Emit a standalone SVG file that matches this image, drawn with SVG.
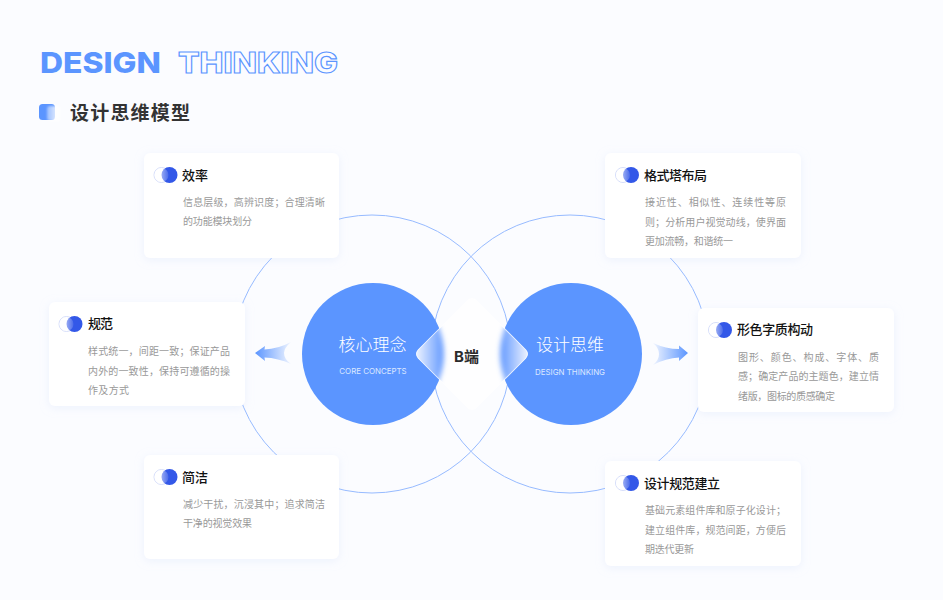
<svg xmlns="http://www.w3.org/2000/svg" xmlns:xlink="http://www.w3.org/1999/xlink" width="943" height="600" viewBox="0 0 943 600">
<style>
text{font-family:"Noto Sans CJK SC","Noto Sans",sans-serif}
.card{fill:#fff;filter:url(#sh)}
.t{font-size:13px;font-weight:500;fill:#111}
.b{font-size:10px;fill:#999}
.ring{fill:none;stroke:#97bbff;stroke-width:1}
.core{fill:#5b95ff}
.big{font-size:17px;font-weight:300;fill:#fff;text-anchor:middle}
.sm{font-family:Inter,"Noto Sans",sans-serif;font-size:7.9px;fill:#dce8ff;text-anchor:middle}
</style>
<defs>
<filter id="sh" x="-20%" y="-20%" width="140%" height="150%"><feDropShadow dx="0" dy="2" stdDeviation="5" flood-color="#c9d6f5" flood-opacity=".28"/></filter>
<filter id="bl" x="-20%" y="-20%" width="140%" height="140%"><feGaussianBlur stdDeviation="2.8"/></filter>
<filter id="bl2" x="-30%" y="-30%" width="160%" height="160%"><feGaussianBlur stdDeviation="1"/></filter>
<linearGradient id="ov"><stop offset="0" stop-color="#fff" stop-opacity="1"/><stop offset=".5" stop-color="#fff" stop-opacity=".5"/><stop offset="1" stop-color="#fff" stop-opacity=".12"/></linearGradient>
<linearGradient id="la" gradientUnits="userSpaceOnUse" x1="255" y1="0" x2="292" y2="0"><stop offset="0" stop-color="#5b95ff"/><stop offset="1" stop-color="#5b95ff" stop-opacity=".05"/></linearGradient>
<linearGradient id="ra" gradientUnits="userSpaceOnUse" x1="688" y1="0" x2="652" y2="0"><stop offset="0" stop-color="#5b95ff"/><stop offset="1" stop-color="#5b95ff" stop-opacity=".05"/></linearGradient>
<linearGradient id="gl" gradientUnits="userSpaceOnUse" x1="415" y1="0" x2="445" y2="0"><stop offset="0" stop-color="#f2f6ff"/><stop offset=".9" stop-color="#6a9eff"/><stop offset="1" stop-color="#6a9eff"/></linearGradient>
<linearGradient id="gr" gradientUnits="userSpaceOnUse" x1="529" y1="0" x2="499" y2="0"><stop offset="0" stop-color="#f2f6ff"/><stop offset=".9" stop-color="#6a9eff"/><stop offset="1" stop-color="#6a9eff"/></linearGradient>
<linearGradient id="fr"><stop offset="0" stop-color="#fff" stop-opacity=".4"/><stop offset="1" stop-color="#fff" stop-opacity=".95"/></linearGradient>
<clipPath id="dm"><rect x="431" y="313" width="82" height="82" rx="6" transform="rotate(45 472 354)"/></clipPath>
<g id="ic"><circle cx="8" cy="8" r="7.5" fill="#fff" stroke="#d5ddfa" stroke-width="1"/><circle cx="16" cy="8" r="8" fill="#3358e8"/><circle cx="8" cy="8" r="7" fill="url(#ov)"/></g>
</defs>
<rect width="943" height="600" fill="#fbfcff"/>
<g id="title">
<text x="40" y="73" font-size="29" font-weight="800" fill="#5b95ff" style="font-family:Inter,sans-serif" textLength="121" lengthAdjust="spacingAndGlyphs">DESIGN</text>
<text x="178" y="73" font-size="29" font-weight="800" fill="none" stroke="#5b95ff" stroke-width="1.1" style="font-family:Inter,sans-serif" textLength="160" lengthAdjust="spacingAndGlyphs">THINKING</text>
</g>
<g id="subtitle">
<rect x="39" y="104" width="16" height="16" rx="3.5" fill="#5b95ff"/>
<rect x="47" y="106" width="13" height="15" rx="3" fill="url(#fr)" filter="url(#bl2)"/>
<text x="70" y="120" font-size="19" font-weight="700" fill="#333" textLength="120">设计思维模型</text>
</g>
<g id="connectors">
<circle class="ring" cx="372" cy="354" r="139"/>
<circle class="ring" cx="570" cy="354" r="139"/>
<path fill="url(#la)" d="M255 353 L265 346 L264.5 349.500 Q278 349 291 342 Q284 348 284 353 Q284 359 291 364 Q278 358 264.500 357.500 L265 361 Z"/>
<path fill="url(#ra)" d="M688 353 L679 345.500 L679 349 Q666 349 653 343 Q659 348 659 354 Q659 360 653 365 Q666 358 679 357.500 L679 361 Z"/>
</g>
<g id="core-left"><circle class="core" cx="373" cy="354" r="71"/><text class="big" x="372.500" y="351">核心理念</text><text class="sm" x="373" y="373.500">CORE CONCEPTS</text></g>
<g id="core-right"><circle class="core" cx="571" cy="354" r="71"/><text class="big" x="570" y="351">设计思维</text><text class="sm" x="570" y="375">DESIGN THINKING</text></g>
<g id="center">
<rect x="431" y="313" width="82" height="82" rx="6" transform="rotate(45 472 354)" fill="#fefeff"/>
<g clip-path="url(#dm)"><g filter="url(#bl)"><circle cx="373" cy="354" r="71" fill="url(#gl)"/><circle cx="571" cy="354" r="71" fill="url(#gr)"/></g></g>
<rect x="431" y="313" width="82" height="82" rx="6" transform="rotate(45 472 354)" fill="none" stroke="#fff" stroke-opacity=".7" stroke-width="1"/>
<text x="454" y="362" font-size="15" font-weight="700" fill="#2b2b2b" style="font-family:Inter,'Noto Sans CJK SC',sans-serif">B端</text>
</g>
<g id="card-1"><rect class="card" x="144" y="153" width="195" height="105" rx="6"/><use href="#ic" x="153.500" y="167"/><text class="t" x="182" y="180" textLength="26">效率</text>
<text class="b" x="183" y="206" textLength="142">信息层级，高辨识度；合理清晰</text><text class="b" x="183" y="225" textLength="69">的功能模块划分</text></g>
<g id="card-2"><rect class="card" x="49" y="302" width="196" height="104" rx="6"/><use href="#ic" x="58.500" y="316"/><text class="t" x="88" y="328" textLength="25">规范</text>
<text class="b" x="88" y="355" textLength="142">样式统一，间距一致；保证产品</text><text class="b" x="88" y="374.500" textLength="142">内外的一致性，保持可遵循的操</text><text class="b" x="88" y="394" textLength="41">作及方式</text></g>
<g id="card-3"><rect class="card" x="144" y="455" width="195" height="104" rx="6"/><use href="#ic" x="153.500" y="469"/><text class="t" x="182" y="482" textLength="26">简洁</text>
<text class="b" x="183" y="508" textLength="142">减少干扰，沉浸其中；追求简洁</text><text class="b" x="183" y="527" textLength="69">干净的视觉效果</text></g>
<g id="card-4"><rect class="card" x="605" y="153" width="196" height="105" rx="6"/><use href="#ic" x="615" y="167"/><text class="t" x="644" y="180" textLength="63">格式塔布局</text>
<text class="b" x="645" y="206" textLength="141">接近性、相似性、连续性等原</text><text class="b" x="645" y="226" textLength="141">则；分析用户视觉动线，使界面</text><text class="b" x="645" y="245" textLength="88">更加流畅，和谐统一</text></g>
<g id="card-5"><rect class="card" x="698" y="308" width="196" height="104" rx="6"/><use href="#ic" x="708" y="322"/><text class="t" x="737" y="334" textLength="76">形色字质构动</text>
<text class="b" x="738" y="360.500" textLength="141">图形、颜色、构成、字体、质</text><text class="b" x="738" y="380" textLength="141">感；确定产品的主题色，建立情</text><text class="b" x="738" y="399.500" textLength="97">绪版，图标的质感确定</text></g>
<g id="card-6"><rect class="card" x="605" y="461" width="196" height="105" rx="6"/><use href="#ic" x="615" y="475"/><text class="t" x="644" y="488" textLength="76">设计规范建立</text>
<text class="b" x="645" y="514" textLength="141">基础元素组件库和原子化设计；</text><text class="b" x="645" y="533.500" textLength="141">建立组件库，规范间距，方便后</text><text class="b" x="645" y="553" textLength="49">期迭代更新</text></g>
</svg>
